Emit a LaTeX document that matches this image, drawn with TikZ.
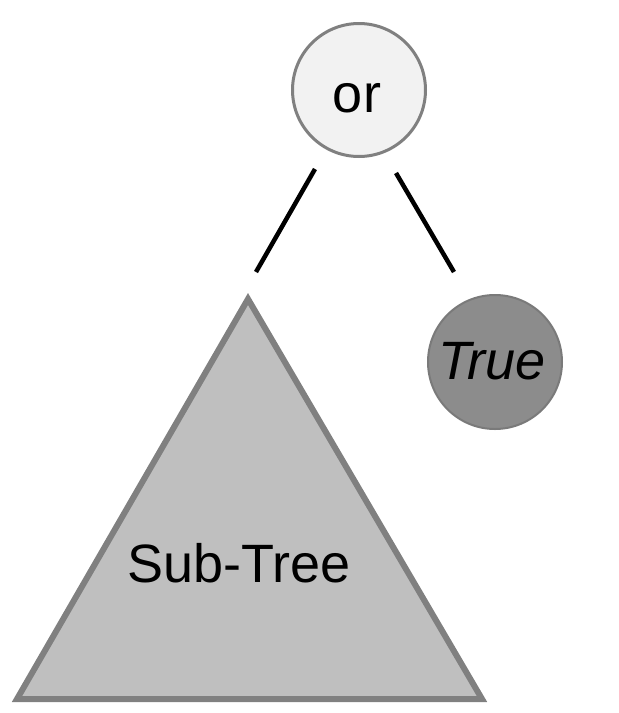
\documentclass[tikz,border=0pt]{standalone}
\usepackage{fontspec}
\setmainfont{Liberation Sans}
\begin{document}
\begin{tikzpicture}[x=1pt,y=-1pt,
  lbl/.style={inner sep=0pt,anchor=base,font=\fontsize{54}{60}\selectfont},
  edgeline/.style={line width=4.5pt,black},
]
\definecolor{orfill}{HTML}{F2F2F2}
\definecolor{rim}{HTML}{808080}
\definecolor{truefill}{HTML}{8C8C8C}
\definecolor{treefill}{HTML}{BFBFBF}
\useasboundingbox (0,0) rectangle (619,713);
% or node
\node[circle,draw=rim,fill=orfill,line width=3pt,minimum size=133pt,inner sep=0pt] (or) at (359,90) {};
\node[lbl] (ortext) at (357,112) {or};
% True node
\node[circle,draw=rim!95!black,fill=truefill,line width=2pt,minimum size=134pt,inner sep=0pt] (true) at (495,362) {};
\node[lbl,font=\fontsize{54}{60}\selectfont\itshape] (truetext) at (492,379) {True};
% subtree
\coordinate (apex) at (248,299);
\coordinate (bl) at (17,699);
\coordinate (br) at (482,699);
\draw[draw=rim,fill=treefill,line width=6pt,line join=miter] (apex) -- (br) -- (bl) -- cycle;
\node[lbl] (subtree) at (239,582) {Sub-Tree};
% connectors
\coordinate (l1) at (315,169);
\coordinate (l2) at (256,272);
\coordinate (r1) at (396,173);
\coordinate (r2) at (454,272);
\draw[edgeline] (l1) -- (l2);
\draw[edgeline] (r1) -- (r2);
\end{tikzpicture}
\end{document}
